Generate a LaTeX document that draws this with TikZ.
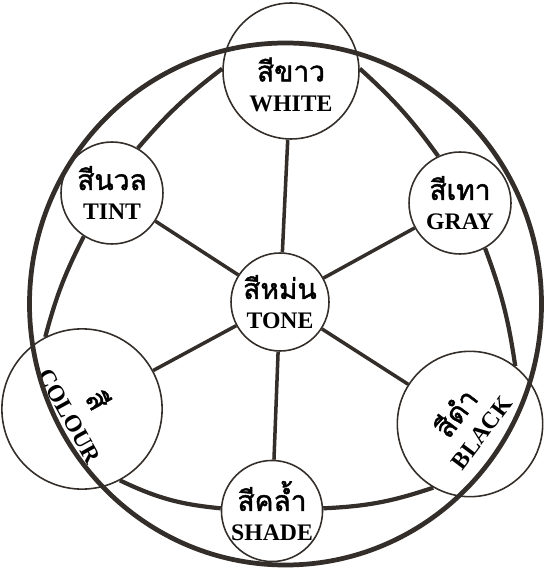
\documentclass[tikz,border=0pt]{standalone}
\usepackage{fontspec}
\setmainfont{Liberation Serif}
\newfontfamily\thaifont[Script=Thai, AutoFakeBold=1.6]{Loma}
\definecolor{ink}{RGB}{52,46,42}
\newcommand{\thl}[1]{{\thaifont\fontsize{16}{17}\selectfont #1}}

\begin{document}
\begin{tikzpicture}[x=0.02cm, y=0.02cm,
  cl/.style={draw=ink, circle, line width=0.9pt, inner sep=0pt, align=center,
             font=\bfseries\fontsize{13.5}{17}\selectfont},
  sp/.style={draw=ink, line width=2pt},
  rg/.style={draw=ink, line width=2.4pt},
  rim/.style={draw=ink, line width=2.7pt}]
\useasboundingbox (0,0) rectangle (546,-570);
\node[cl, minimum size=2.72cm] (white) at (291,-71) {\rule{0pt}{29pt}\thl{สีขาว}\\WHITE};
\node[cl, minimum size=2.04cm] (tint) at (112,-193) {\thl{สีนวล}\\TINT};
\node[cl, minimum size=2.04cm] (gray) at (460,-203) {\thl{สีเทา}\\GRAY};
\node[cl, minimum size=1.96cm] (tone) at (280,-302) {\thl{สีหม่น}\\TONE};
\node[cl, minimum size=2.72cm] (colour) at (82,-409)
  {\rotatebox{-61}{\begin{tabular}{@{}c@{}}\thl{สี}\\COLOUR\end{tabular}}};
\node[cl, minimum size=2.76cm] (black) at (470,-424)
  {\rotatebox{53}{\begin{tabular}{@{}c@{}}\thl{สีดำ}\\BLACK\end{tabular}}};
\node[cl, minimum size=1.96cm] (shade) at (272,-511) {\thl{สีคล้ำ}\\SHADE};
\foreach \n in {white,tint,gray,colour,black,shade}
  \draw[sp] (tone) -- (\n);
\draw[rg] (white.178) to[bend right=6] (tint.60);
\draw[rg] (tint.237) to[bend right=6] (colour.117);
\draw[rg] (colour.298) to[bend right=10] (shade.177);
\draw[rg] (shade.3) to[bend right=8] (black.240);
\draw[rg] (black.52) to[bend right=6] (gray.299);
\draw[rg] (gray.115) to[bend right=6] (white.2);
\draw[rim] (285.5,-304) ellipse [x radius=256, y radius=261];
\end{tikzpicture}
\end{document}
